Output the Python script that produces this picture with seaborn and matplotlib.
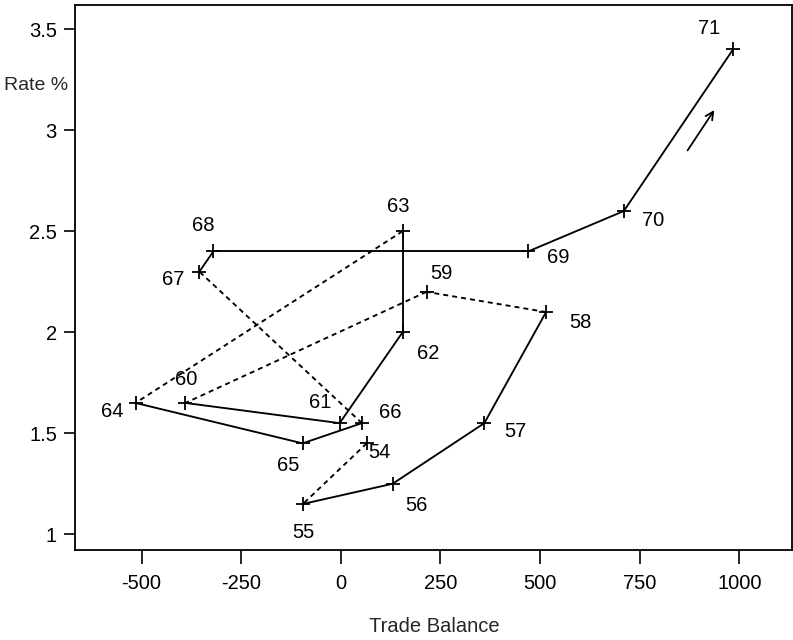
import matplotlib
matplotlib.use("Agg")
import matplotlib.pyplot as plt
import numpy as np
import pandas as pd
import seaborn as sns

# Yearly trade balance vs. rate, 1954-1971
years = ["54", "55", "56", "57", "58", "59", "60", "61", "62",
         "63", "64", "65", "66", "67", "68", "69", "70", "71"]
trade_balance = [65, -95, 130, 360, 515, 215, -390, -3, 155,
                 155, -515, -96, 53, -355, -320, 470, 710, 984]
rate_pct = [1.45, 1.15, 1.25, 1.55, 2.1, 2.2, 1.65, 1.55, 2.0,
            2.5, 1.65, 1.45, 1.55, 2.3, 2.4, 2.4, 2.6, 3.4]
# line style of the step from each year to the next
step_dashed = [True, False, False, False, True, True, False, False, False,
               True, False, False, True, False, False, False, False]

x_ticks = [-500, -250, 0, 250, 500, 750, 1000]
y_ticks = [1, 1.5, 2, 2.5, 3, 3.5]
y_tick_labels = ["1", "1.5", "2", "2.5", "3", "3.5"]

# label offsets (pixels: right, down) for each year tag
label_offsets = [(13, 9), (0, 29), (24, 22), (31, 8), (34, 10), (15, -18),
                 (1, -23), (-19, -21), (26, 21), (-4, -25), (-23, 9),
                 (-14, 22), (28, -11), (-26, 8), (-10, -26), (30, 6),
                 (29, 9), (-24, -21)]

sns.set_style("ticks")
plt.rcParams["font.family"] = ["Liberation Sans", "DejaVu Sans"]
plt.rcParams["lines.scale_dashes"] = False

FS = 14.5

points = pd.DataFrame({"year": years, "balance": trade_balance, "rate": rate_pct})

rows = []
for i, dashed in enumerate(step_dashed):
    kind = "dashed" if dashed else "solid"
    for j in (i, i + 1):
        rows.append({"segment": i, "kind": kind,
                     "balance": trade_balance[j], "rate": rate_pct[j]})
segments = pd.DataFrame(rows)

fig = plt.figure(figsize=(7.93, 6.40), dpi=100)
ax = fig.add_axes([75 / 793, 90 / 640, 717 / 793, 545 / 640])

sns.lineplot(data=segments, x="balance", y="rate", units="segment",
             style="kind", estimator=None, sort=False, color="black",
             dashes={"solid": "", "dashed": (3.6, 2.9)}, linewidth=1.35,
             legend=False, ax=ax)
sns.scatterplot(data=points, x="balance", y="rate", marker="+", s=115,
                color="black", linewidth=1.3, ax=ax, zorder=3)

px_to_pt = 72 / fig.dpi
for yr, xv, yv, (dx, dy) in zip(years, trade_balance, rate_pct, label_offsets):
    ax.annotate(yr, (xv, yv), xytext=(dx * px_to_pt, -dy * px_to_pt),
                textcoords="offset points", ha="center", va="center",
                fontsize=FS, color="black")

# direction of travel
ax.annotate("", xy=(937, 3.1), xytext=(870, 2.9),
            arrowprops=dict(arrowstyle="->", lw=1.3, color="black",
                            mutation_scale=14, shrinkA=0, shrinkB=0))

ax.set_xlim(-667, 1132)
ax.set_ylim(0.922, 3.62)
ax.set_xticks(x_ticks)
ax.set_xticklabels([str(t) for t in x_ticks])
ax.set_yticks(y_ticks)
ax.set_yticklabels(y_tick_labels)
ax.tick_params(axis="both", direction="out", length=8, width=1.2,
               labelsize=FS, colors="black", pad=5)
ax.tick_params(axis="x", length=10, pad=7)
for side in ax.spines.values():
    side.set_visible(True)
    side.set_linewidth(1.3)
    side.set_color("black")

ax.set_xlabel("")
ax.set_ylabel("")
fig.text(434 / 793, 1 - 627 / 640, "Trade Balance", ha="center", va="center",
         fontsize=FS)
fig.text(36 / 793, 1 - 85 / 640, "Rate %", ha="center", va="center",
         fontsize=14)

fig.savefig("out.png", dpi=100)
